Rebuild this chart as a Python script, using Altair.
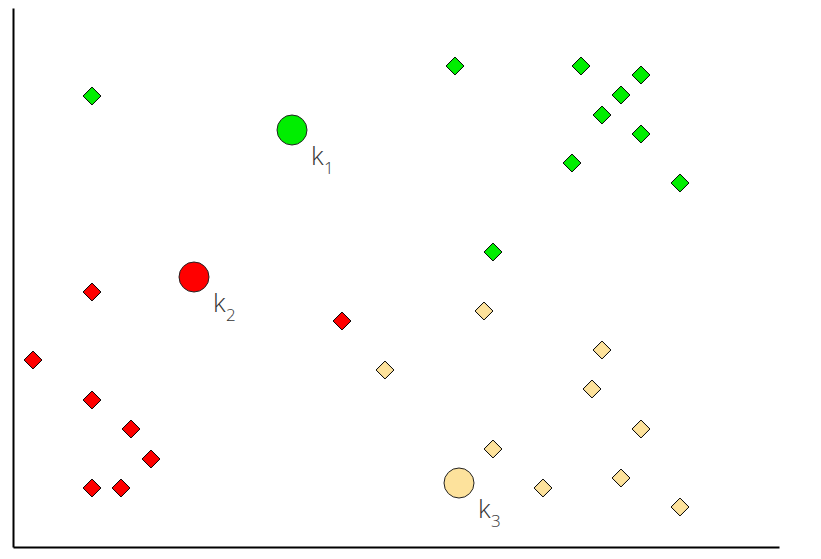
import altair as alt
import pandas as pd

# data points (x, y) per cluster
green_x = [7.9, 44.2, 56.8, 62.8, 60.8, 58.9, 62.8, 55.9, 66.7, 48.0]
green_y = [45.1, 48.1, 48.1, 47.2, 45.2, 43.2, 41.3, 38.4, 36.4, 29.5]
red_x = [7.9, 2.0, 32.9, 7.9, 11.8, 13.8, 7.9, 10.8]
red_y = [25.5, 18.7, 22.6, 14.7, 11.8, 8.8, 5.9, 5.9]
yellow_x = [47.1, 37.2, 58.9, 57.9, 62.8, 48.0, 60.8, 53.0, 66.7]
yellow_y = [23.6, 17.7, 19.7, 15.8, 11.8, 9.8, 6.9, 5.9, 4.0]

clusters = ["k1", "k2", "k3"]
cluster_sub = ["1", "2", "3"]
centroid_x = [27.9, 18.1, 44.6]
centroid_y = [41.7, 27.0, 6.4]
colors = ["#00ee00", "#ff0000", "#fde29c"]

rows = []
for xs, ys, c in [(green_x, green_y, "k1"), (red_x, red_y, "k2"), (yellow_x, yellow_y, "k3")]:
    for a, b in zip(xs, ys):
        rows.append({"x": a, "y": b, "cluster": c})
pts = pd.DataFrame(rows)
cen = pd.DataFrame({"x": centroid_x, "y": centroid_y, "cluster": clusters,
                    "k": ["k"] * 3, "sub": cluster_sub})

xs = alt.Scale(domain=[0, 76.6], nice=False, zero=False)
ys = alt.Scale(domain=[0, 53.9], nice=False, zero=False)
cs = alt.Scale(domain=clusters, range=colors)
ax = alt.Axis(labels=False, ticks=False, grid=False, title=None, domain=True,
              domainColor="black", domainWidth=2)

X = alt.X("x:Q", scale=xs, axis=ax)
Y = alt.Y("y:Q", scale=ys, axis=ax)

points = alt.Chart(pts).mark_point(shape="diamond", filled=True, size=320,
                                   stroke="black", strokeWidth=1, opacity=1).encode(
    x=X, y=Y, color=alt.Color("cluster:N", scale=cs, legend=None))

cents = alt.Chart(cen).mark_point(shape="circle", filled=True, size=900,
                                  stroke="#222222", strokeWidth=1, opacity=1).encode(
    x=X, y=Y, color=alt.Color("cluster:N", scale=cs, legend=None))

klab = alt.Chart(cen).mark_text(align="left", baseline="alphabetic", dx=19, dy=35,
                                fontSize=26, font="Open Sans", fontWeight=300,
                                color="#333333").encode(x=X, y=Y, text="k:N")
slab = alt.Chart(cen).mark_text(align="left", baseline="alphabetic", dx=32, dy=44,
                                fontSize=17, font="Open Sans", fontWeight=300,
                                color="#333333").encode(x=X, y=Y, text="sub:N")

chart = alt.layer(points, cents, klab, slab).properties(
    width=766, height=539,
    autosize=alt.AutoSizeParams(type="none"),
    padding={"left": 5, "top": 0, "right": 20, "bottom": 10},
).configure_view(strokeOpacity=0)

chart.save("out.html", embed_options={"renderer": "svg", "actions": False})
